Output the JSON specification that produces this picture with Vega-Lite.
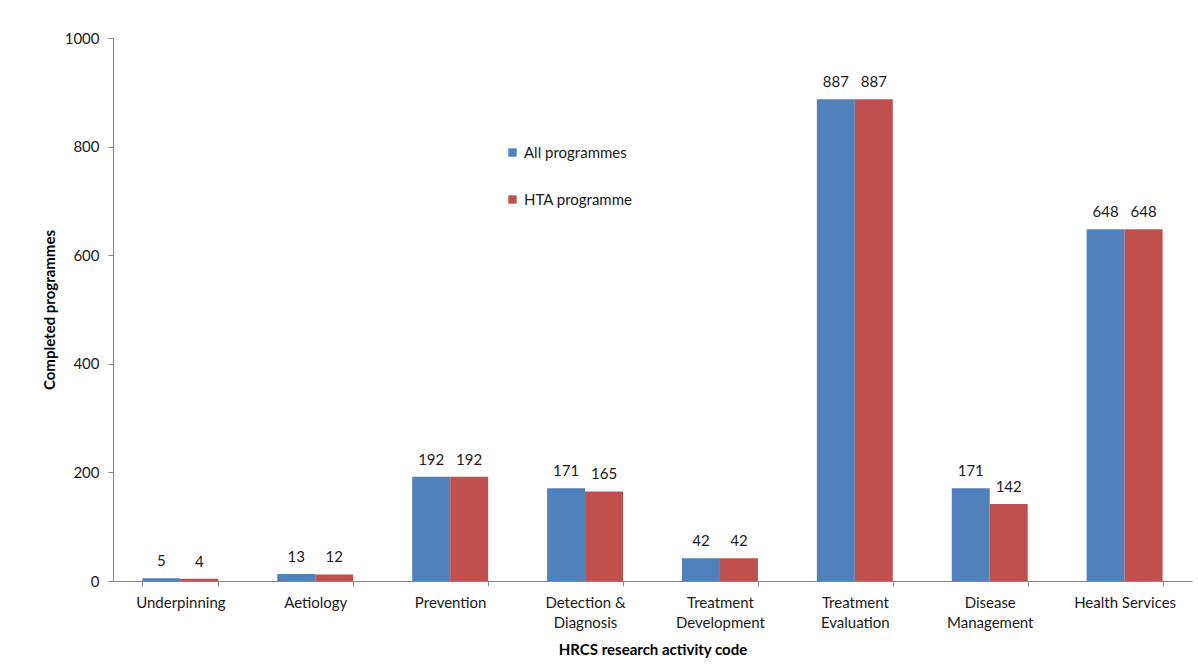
{
  "$schema": "https://vega.github.io/schema/vega-lite/v6.json",
  "autosize": {"type": "none"},
  "padding": {"left": 113, "top": 38, "right": 6, "bottom": 83},
  "width": 1079,
  "height": 543,
  "config": {
    "font": "Lato",
    "view": {"stroke": null},
    "axis": {
      "domainColor": "#868686",
      "tickColor": "#868686",
      "labelColor": "#1a1a1a",
      "titleColor": "#000000",
      "labelFont": "Lato",
      "titleFont": "Lato",
      "labelFontSize": 15,
      "titleFontSize": 15,
      "titleFontWeight": "bold",
      "grid": false,
      "tickSize": 5
    }
  },
  "data": {
    "values": [
      {"code": "Underpinning", "series": "All programmes", "count": 5},
      {"code": "Underpinning", "series": "HTA programme", "count": 4},
      {"code": "Aetiology", "series": "All programmes", "count": 13},
      {"code": "Aetiology", "series": "HTA programme", "count": 12},
      {"code": "Prevention", "series": "All programmes", "count": 192},
      {"code": "Prevention", "series": "HTA programme", "count": 192},
      {"code": "Detection & Diagnosis", "series": "All programmes", "count": 171},
      {"code": "Detection & Diagnosis", "series": "HTA programme", "count": 165},
      {"code": "Treatment Development", "series": "All programmes", "count": 42},
      {"code": "Treatment Development", "series": "HTA programme", "count": 42},
      {"code": "Treatment Evaluation", "series": "All programmes", "count": 887},
      {"code": "Treatment Evaluation", "series": "HTA programme", "count": 887},
      {"code": "Disease Management", "series": "All programmes", "count": 171},
      {"code": "Disease Management", "series": "HTA programme", "count": 142},
      {"code": "Health Services", "series": "All programmes", "count": 648},
      {"code": "Health Services", "series": "HTA programme", "count": 648}
    ]
  },
  "encoding": {
    "x": {
      "field": "code",
      "type": "nominal",
      "sort": null,
      "scale": {"paddingInner": 0.437, "paddingOuter": 0.218},
      "axis": {
        "title": "HRCS research activity code",
        "labelAngle": 0,
        "labelPadding": 9,
        "labelLineHeight": 20,
        "tickBand": "extent",
        "titlePadding": 12,
        "labelExpr": "datum.label == 'Health Services' ? datum.label : datum.label == 'Detection & Diagnosis' ? ['Detection &', 'Diagnosis'] : split(datum.label, ' ')"
      }
    },
    "xOffset": {"field": "series", "type": "nominal", "scale": {"paddingInner": 0, "paddingOuter": 0}},
    "y": {
      "field": "count",
      "type": "quantitative",
      "scale": {"domain": [0, 1000], "nice": false},
      "axis": {
        "title": "Completed  programmes",
        "format": "d",
        "values": [0, 200, 400, 600, 800, 1000],
        "labelPadding": 9,
        "titlePadding": 7
      }
    }
  },
  "layer": [
    {
      "mark": {"type": "bar"},
      "encoding": {
        "color": {
          "field": "series",
          "type": "nominal",
          "scale": {"domain": ["All programmes", "HTA programme"], "range": ["#4F81BD", "#C0504D"]},
          "legend": {
            "title": null,
            "orient": "none",
            "legendX": 392,
            "legendY": 107,
            "symbolType": "square",
            "symbolSize": 70,
            "symbolStrokeWidth": 0,
            "labelFontSize": 15,
            "labelColor": "#1a1a1a",
            "labelOffset": 4,
            "rowPadding": 31
          }
        }
      }
    },
    {
      "mark": {"type": "text", "baseline": "alphabetic", "dy": -12, "fontSize": 15, "color": "#1a1a1a"},
      "encoding": {
        "text": {"field": "count", "type": "quantitative"}
      }
    }
  ]
}
